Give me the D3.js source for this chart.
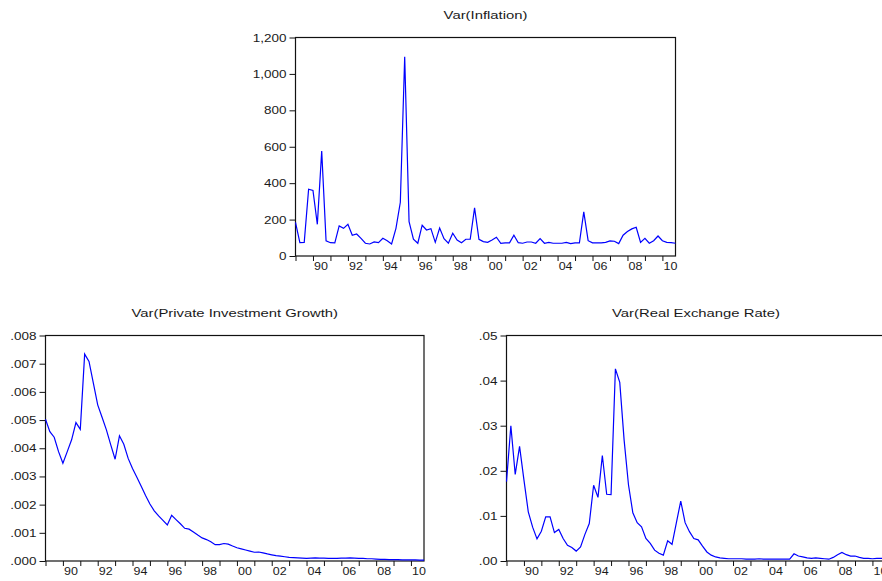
<!DOCTYPE html>
<html>
<head>
<meta charset="utf-8">
<script src="https://cdn.jsdelivr.net/npm/d3@7"></script>
<style>
  html, body { margin: 0; padding: 0; background: #fff; }
  svg { display: block; }
  text { font-family: "Liberation Sans", Arial, sans-serif; fill: #1a1a1a; }
</style>
</head>
<body>
<svg id="chart" width="882" height="581"></svg>
<script>
// quarterly, 1989Q1 .. 2010Q4
const quarters = d3.range(88).map(i => 1989 + i / 4);
const yearTicks = d3.range(1989, 2011);

const inflation = [
    185, 73, 75, 367,   360, 174, 576, 83,   73, 72, 165, 152,
    174, 114, 121, 97,  70, 66, 77, 73,     97, 84, 66, 152,
    295, 1094, 189, 92, 70, 169, 143, 150,  75, 154, 95, 70,
    125, 88, 73, 92,    92, 264, 92, 79,    75, 88, 103, 70,
    72, 72, 114, 73,    70, 77, 77, 70,     95, 70, 75, 70,
    70, 70, 75, 68,     72, 72, 242, 84,    72, 72, 72, 75,
    83, 81, 68, 114,    134, 149, 158, 75,  97, 70, 84, 110,
    84, 75, 73, 70
];

const privInvest = [
    .00503, .00459, .00439, .00388,  .00347, .00388, .00430, .00491,
    .00467, .00734, .00708, .00631,  .00554, .00510, .00465, .00412,
    .00361, .00444, .00414, .00364,  .00328, .00297, .00265, .00232,
    .00202, .00178, .00160, .00144,  .00128, .00162, .00147, .00132,
    .00116, .00113, .00103, .00092,  .00082, .00076, .00068, .00058,
    .00058, .00062, .00060, .00053,  .00047, .00043, .00039, .00035,
    .00031, .00032, .00029, .00025,  .00022, .00019, .00017, .00015,
    .00013, .00012, .00011, .00010,  .00009, .00010, .00011, .00010,
    .00010, .00009, .00009, .00009,  .00010, .00010, .00011, .00010,
    .00009, .00009, .00008, .00008,  .00007, .00006, .00006, .00005,
    .00005, .00005, .00004, .00004,  .00004, .00004, .00003, .00003
];

const realExch = [
    .0176, .0300, .0192, .0254,  .0180, .0109, .0075, .0049,
    .0066, .0098, .0098, .0063,  .0070, .0050, .0035, .0030,
    .0022, .0031, .0059, .0083,  .0168, .0141, .0234, .0148,
    .0147, .0426, .0396, .0268,  .0169, .0107, .0085, .0076,
    .0050, .0039, .0024, .0017,  .0013, .0045, .0037, .0085,
    .0133, .0085, .0065, .0050,  .0047, .0033, .0020, .0013,
    .0009, .0007, .0006, .0005,  .0005, .0005, .0005, .0004,
    .0004, .0004, .0005, .0004,  .0004, .0004, .0004, .0004,
    .0004, .0004, .0016, .0011,  .0009, .0007, .0006, .0007,
    .0006, .0005, .0004, .0008,  .0014, .0019, .0014, .0011,
    .0011, .0008, .0006, .0006,  .0005, .0006, .0006, .0006
];

const panels = [
    { title: "Var(Inflation)", values: inflation,
      yTicks: [0, 200, 400, 600, 800, 1000, 1200], yMax: 1200, fmt: d3.format(","),
      left: 295.5, right: 675.5, top: 37.5, bottom: 256 },
    { title: "Var(Private Investment Growth)", values: privInvest,
      yTicks: d3.range(0, 9).map(d => d / 1000), yMax: 0.008, fmt: d => d3.format(".3f")(d).replace(/^0/, ""),
      left: 45.5, right: 424, top: 335.5, bottom: 561 },
    { title: "Var(Real Exchange Rate)", values: realExch,
      yTicks: [0, .01, .02, .03, .04, .05], yMax: 0.05, fmt: d => d3.format(".2f")(d).replace(/^0/, ""),
      left: 506.5, right: 885.5, top: 335.5, bottom: 561 }
];

const svg = d3.select("#chart");

panels.forEach(p => drawPanel(p));

function drawPanel(p) {
    const x = d3.scaleLinear().domain([1989, 2010.75]).range([p.left, p.right]);
    const y = d3.scaleLinear().domain([0, p.yMax]).range([p.bottom, p.top]);
    const g = svg.append("g");

    // y axis
    const ya = g.append("g")
        .attr("transform", `translate(${p.left},0)`)
        .call(d3.axisLeft(y).tickValues(p.yTicks).tickFormat(p.fmt).tickSize(6).tickPadding(3));
    ya.select(".domain").remove();
    ya.selectAll("line").attr("stroke", "#111");
    ya.selectAll("text")
        .attr("x", 0).attr("dy", "0.35em")
        .attr("transform", "translate(-9,0) scale(1.35,1)")
        .style("font-size", "10px");

    // x axis: a tick every year, label every other year
    const xa = g.append("g")
        .attr("transform", `translate(0,${p.bottom})`)
        .call(d3.axisBottom(x).tickValues(yearTicks)
            .tickFormat(d => d % 2 === 0 ? String(d).slice(2) : "")
            .tickSize(5).tickPadding(2));
    xa.select(".domain").remove();
    xa.selectAll("line").attr("stroke", "#111");
    xa.selectAll("text")
        .attr("x", 0)
        .attr("transform", "translate(7.5,0) scale(1.25,1)")
        .style("font-size", "10px");

    // frame
    g.append("rect")
        .attr("x", p.left).attr("y", p.top)
        .attr("width", p.right - p.left).attr("height", p.bottom - p.top)
        .attr("fill", "none").attr("stroke", "#111").attr("stroke-width", 1.2);

    // series
    const line = d3.line().x((d, i) => x(quarters[i])).y(d => y(d));
    g.append("path")
        .datum(p.values)
        .attr("d", line)
        .attr("fill", "none")
        .attr("stroke", "#0000ff")
        .attr("stroke-width", 1.2);

    // title
    g.append("text")
        .attr("text-anchor", "middle")
        .attr("transform", `translate(${(p.left + p.right) / 2},${p.top - 19}) scale(1.35,1)`)
        .style("font-size", "11px")
        .text(p.title);
}
</script>
</body>
</html>
